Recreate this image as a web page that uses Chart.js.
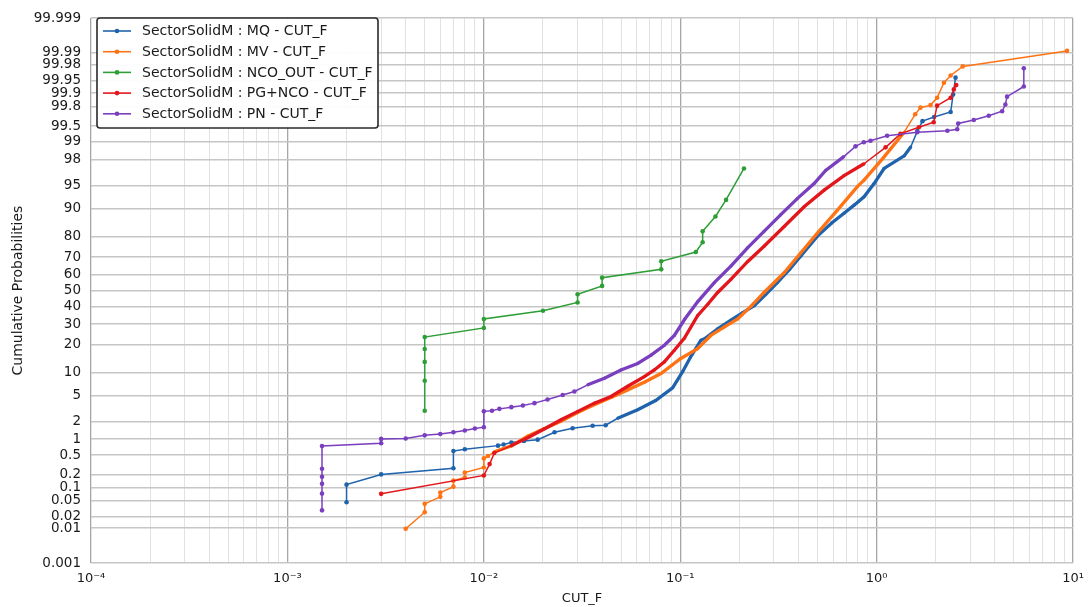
<!DOCTYPE html>
<html>
<head>
<meta charset="utf-8">
<script src="https://cdn.jsdelivr.net/npm/chart.js@4.4.0/dist/chart.umd.min.js"></script>
<style>
html,body{margin:0;padding:0;background:#fff;}
#wrap{width:1092px;height:607px;}
</style>
</head>
<body>
<div id="wrap"><canvas id="c" width="1092" height="607"></canvas></div>
<script>
// ---------------- DATA ----------------
const seriesNames = [
  'SectorSolidM : MQ - CUT_F',
  'SectorSolidM : MV - CUT_F',
  'SectorSolidM : NCO_OUT - CUT_F',
  'SectorSolidM : PG+NCO - CUT_F',
  'SectorSolidM : PN - CUT_F'
];

// MQ (CUT_F values, cumulative probability in %)
const mqX = [0.002, 0.002, 0.003, 0.007, 0.007, 0.008, 0.0118, 0.0126, 0.0138, 0.016, 0.0188, 0.0229, 0.0283, 0.0358, 0.0417, 0.048, 0.0607, 0.0749, 0.0914, 0.1028, 0.1128, 0.1273, 0.1345, 0.155, 0.181, 0.208, 0.238, 0.272, 0.312, 0.36, 0.41, 0.499, 0.59, 0.682, 0.77, 0.862, 0.97, 1.09, 1.38, 1.49, 1.61, 1.71, 1.96, 2.38, 2.45, 2.52];
const mqP = [0.046, 0.119, 0.20, 0.27, 0.60, 0.65, 0.76, 0.80, 0.87, 0.93, 0.98, 1.33, 1.56, 1.72, 1.75, 2.28, 3.1, 4.26, 6.4, 10.2, 14.9, 21.8, 22.8, 27.5, 32.1, 36.5, 40.6, 47.5, 54.9, 63.0, 70.5, 80.3, 85.5, 88.7, 91.0, 92.9, 95.3, 97.2, 98.25, 98.77, 99.37, 99.60, 99.67, 99.74, 99.893, 99.957];

// MV
const mvX = [0.004, 0.005, 0.005, 0.006, 0.006, 0.007, 0.007, 0.008, 0.008, 0.01, 0.01, 0.0105, 0.0113, 0.0138, 0.0167, 0.02, 0.0247, 0.03, 0.0365, 0.045, 0.054, 0.066, 0.0797, 0.1002, 0.1225, 0.143, 0.168, 0.196, 0.23, 0.267, 0.338, 0.41, 0.499, 0.631, 0.797, 0.862, 1.07, 1.38, 1.57, 1.67, 1.88, 2.03, 2.20, 2.38, 2.74, 9.31];
const mvP = [0.0096, 0.026, 0.042, 0.062, 0.078, 0.107, 0.146, 0.172, 0.22, 0.28, 0.43, 0.48, 0.58, 0.75, 1.13, 1.5, 2.03, 2.8, 3.7, 4.8, 6.0, 7.6, 9.7, 14.3, 18.1, 24.1, 28.5, 32.8, 40.5, 48.8, 61.0, 72.2, 81.6, 89.6, 94.8, 95.8, 98.04, 99.34, 99.71, 99.79, 99.815, 99.873, 99.943, 99.962, 99.9775, 99.9912];

// NCO_OUT
const ncoX = [0.005, 0.005, 0.005, 0.005, 0.005, 0.01, 0.01, 0.02, 0.03, 0.03, 0.04, 0.04, 0.08, 0.08, 0.12, 0.13, 0.13, 0.151, 0.171, 0.211];
const ncoP = [3.0, 7.9, 13.2, 18.0, 23.3, 27.9, 32.8, 37.6, 42.6, 47.7, 52.9, 58.0, 63.0, 67.7, 72.7, 77.5, 82.3, 87.7, 92.2, 97.2];

// PG+NCO
const pgX = [0.003, 0.01, 0.0107, 0.0113, 0.0138, 0.0167, 0.0204, 0.0247, 0.0301, 0.0365, 0.0444, 0.054, 0.0656, 0.0738, 0.083, 0.0933, 0.105, 0.1225, 0.138, 0.155, 0.181, 0.220, 0.267, 0.338, 0.427, 0.540, 0.682, 0.862, 1.11, 1.32, 1.64, 1.95, 2.03, 2.38, 2.47, 2.54];
const pgP = [0.073, 0.19, 0.33, 0.55, 0.76, 1.06, 1.53, 2.15, 2.93, 3.9, 4.86, 6.7, 8.9, 10.7, 13.2, 17.5, 22.8, 34.7, 41.5, 48.8, 56.9, 67.4, 75.6, 84.2, 90.5, 94.2, 96.4, 97.64, 98.75, 99.29, 99.47, 99.58, 99.81, 99.873, 99.918, 99.935];

// PN
const pnX = [0.0015, 0.0015, 0.0015, 0.0015, 0.0015, 0.0015, 0.003, 0.003, 0.004, 0.005, 0.006, 0.007, 0.008, 0.009, 0.01, 0.01, 0.011, 0.012, 0.0138, 0.0158, 0.0181, 0.0211, 0.0252, 0.0289, 0.0338, 0.0411, 0.0499, 0.0607, 0.071, 0.083, 0.0933, 0.1055, 0.1225, 0.149, 0.181, 0.220, 0.267, 0.324, 0.394, 0.48, 0.55, 0.68, 0.78, 0.86, 0.93, 1.13, 1.61, 2.29, 2.57, 2.6, 3.12, 3.72, 4.35, 4.52, 4.61, 5.61, 5.61];
const pnP = [0.029, 0.074, 0.125, 0.178, 0.263, 0.75, 0.84, 1.01, 1.03, 1.17, 1.24, 1.33, 1.42, 1.54, 1.62, 2.93, 3.0, 3.2, 3.4, 3.6, 3.9, 4.4, 5.1, 5.7, 7.0, 8.5, 10.7, 12.7, 15.6, 19.6, 24.1, 32.8, 43.0, 54.9, 64.9, 74.8, 82.3, 88.2, 92.5, 95.3, 97.0, 98.2, 98.8, 98.99, 99.05, 99.23, 99.34, 99.38, 99.42, 99.555, 99.62, 99.69, 99.75, 99.82, 99.88, 99.93, 99.975];

// Axis ticks
const yTickValues = [0.001, 0.01, 0.02, 0.05, 0.1, 0.2, 0.5, 1, 2, 5, 10, 20, 30, 40, 50, 60, 70, 80, 90, 95, 98, 99, 99.5, 99.8, 99.9, 99.95, 99.98, 99.99, 99.999];
const yTickLabels = ['0.001', '0.01', '0.02', '0.05', '0.1', '0.2', '0.5', '1', '2', '5', '10', '20', '30', '40', '50', '60', '70', '80', '90', '95', '98', '99', '99.5', '99.8', '99.9', '99.95', '99.98', '99.99', '99.999'];
const xDecades = [1e-4, 1e-3, 1e-2, 1e-1, 1, 10];
const xTickLabels = ['10\u207B\u2074', '10\u207B\u00B3', '10\u207B\u00B2', '10\u207B\u00B9', '10\u2070', '10\u00B9'];

// ---------------- STYLE ----------------
const colors = ['#1f63ad', '#ff7314', '#2e9e36', '#e3161c', '#7a3fbf'];
const denseRanges = [[0.045, 1.5], [0.011, 1.4], null, [0.012, 1.1], [0.03, 0.7]];
const FONT = "'DejaVu Sans', sans-serif";

// ---------------- HELPERS ----------------
function probit(p) {
  const a = [-3.969683028665376e+01, 2.209460984245205e+02, -2.759285104469687e+02, 1.383577518672690e+02, -3.066479806614716e+01, 2.506628277459239e+00];
  const b = [-5.447609879822406e+01, 1.615858368580409e+02, -1.556989798598866e+02, 6.680131188771972e+01, -1.328068155288572e+01];
  const c = [-7.784894002430293e-03, -3.223964580411365e-01, -2.400758277161838e+00, -2.549671348979257e+00, 4.374664141464968e+00, 2.938163982698783e+00];
  const d = [7.784695709041462e-03, 3.224671290700398e-01, 2.445134137142996e+00, 3.754408661907416e+00];
  const plow = 0.02425, phigh = 1 - plow;
  let q, r;
  if (p < plow) {
    q = Math.sqrt(-2 * Math.log(p));
    return (((((c[0]*q+c[1])*q+c[2])*q+c[3])*q+c[4])*q+c[5]) / ((((d[0]*q+d[1])*q+d[2])*q+d[3])*q+1);
  } else if (p <= phigh) {
    q = p - 0.5; r = q*q;
    return (((((a[0]*r+a[1])*r+a[2])*r+a[3])*r+a[4])*r+a[5])*q / (((((b[0]*r+b[1])*r+b[2])*r+b[3])*r+b[4])*r+1);
  } else {
    q = Math.sqrt(-2 * Math.log(1 - p));
    return -(((((c[0]*q+c[1])*q+c[2])*q+c[3])*q+c[4])*q+c[5]) / ((((d[0]*q+d[1])*q+d[2])*q+d[3])*q+1);
  }
}
function decadeIndex(v) {
  return xDecades.findIndex(dv => Math.abs(v / dv - 1) < 1e-6);
}
const xGridValues = [];
xDecades.forEach((dv, i) => {
  if (i < xDecades.length - 1) { for (let m = 1; m <= 9; m++) xGridValues.push(dv * m); }
  else xGridValues.push(dv);
});

const allX = [mqX, mvX, ncoX, pgX, pnX];
const allP = [mqP, mvP, ncoP, pgP, pnP];

function inDense(si, x) {
  const r = denseRanges[si];
  return r && x >= r[0] && x <= r[1];
}

const datasets = seriesNames.map((name, si) => ({
  label: name,
  data: allX[si].map((x, i) => ({ x: x, y: probit(allP[si][i] / 100) })),
  borderColor: colors[si],
  backgroundColor: colors[si],
  pointBackgroundColor: colors[si],
  pointBorderWidth: 0,
  pointRadius: ctx => inDense(si, allX[si][ctx.dataIndex]) ? 1.6 : 2.3,
  borderWidth: 1.5,
  tension: 0,
  fill: false,
  order: 5 - si,
  segment: {
    borderWidth: ctx => (inDense(si, allX[si][ctx.p0DataIndex]) && inDense(si, allX[si][ctx.p1DataIndex])) ? 3.3 : 1.5
  }
}));

// custom in-plot legend
const legendStyle = { x: 97, y: 18, w: 281, h: 110, row0: 31, gap: 20.7, lineX0: 103, lineX1: 131, textX: 142 };
const legendPlugin = {
  id: 'inplotLegend',
  afterDraw(chart) {
    const ctx = chart.ctx, L = legendStyle;
    ctx.save();
    ctx.beginPath();
    if (ctx.roundRect) ctx.roundRect(L.x, L.y, L.w, L.h, 3); else ctx.rect(L.x, L.y, L.w, L.h);
    ctx.fillStyle = 'rgba(255,255,255,0.95)';
    ctx.fill();
    ctx.lineWidth = 1.6;
    ctx.strokeStyle = '#2a2a2a';
    ctx.stroke();
    chart.data.datasets.forEach((ds, i) => {
      const y = L.row0 + i * L.gap;
      ctx.strokeStyle = ds.borderColor;
      ctx.lineWidth = 1.6;
      ctx.beginPath(); ctx.moveTo(L.lineX0, y); ctx.lineTo(L.lineX1, y); ctx.stroke();
      ctx.fillStyle = ds.borderColor;
      ctx.beginPath(); ctx.arc((L.lineX0 + L.lineX1) / 2, y, 2.3, 0, Math.PI * 2); ctx.fill();
      ctx.fillStyle = '#1a1a1a';
      ctx.font = '14px ' + FONT;
      ctx.textBaseline = 'middle';
      ctx.textAlign = 'left';
      ctx.fillText(ds.label, L.textX, y + 0.5);
    });
    ctx.restore();
  }
};

new Chart(document.getElementById('c'), {
  type: 'line',
  data: { datasets: datasets },
  options: {
    responsive: false,
    animation: false,
    events: [],
    layout: { padding: { left: 0, right: 16, top: 13, bottom: 0 } },
    plugins: { legend: { display: false }, tooltip: { enabled: false } },
    scales: {
      x: {
        type: 'logarithmic',
        min: 1e-4, max: 10,
        afterBuildTicks: s => { s.ticks = xGridValues.map(v => ({ value: v })); },
        afterFit: s => { s.height = 44; },
        grid: {
          color: ctx => (ctx.tick && decadeIndex(ctx.tick.value) >= 0) ? '#a6a6a6' : '#e2e2e2',
          lineWidth: ctx => (ctx.tick && decadeIndex(ctx.tick.value) >= 0) ? 1.3 : 1,
          drawTicks: false
        },
        border: { display: false },
        ticks: {
          autoSkip: false, maxRotation: 0, minRotation: 0, padding: 8,
          color: '#1a1a1a', font: { family: FONT, size: 13 },
          callback: v => { const k = decadeIndex(v); return k >= 0 ? xTickLabels[k] : ''; }
        },
        title: { display: true, text: 'CUT_F', color: '#1a1a1a', font: { family: FONT, size: 13 }, padding: { top: 0, bottom: 1 } }
      },
      y: {
        type: 'linear',
        min: probit(yTickValues[0] / 100),
        max: probit(yTickValues[yTickValues.length - 1] / 100),
        afterBuildTicks: s => { s.ticks = yTickValues.map(v => ({ value: probit(v / 100) })); },
        afterFit: s => { s.width = 91; },
        grid: { color: '#c6c6c6', lineWidth: 1.6, drawTicks: false },
        border: { display: false },
        ticks: {
          autoSkip: false, padding: 10,
          color: '#1a1a1a', font: { family: FONT, size: 13.5 },
          callback: (v, i) => yTickLabels[i]
        },
        title: { display: true, text: 'Cumulative Probabilities', color: '#1a1a1a', font: { family: FONT, size: 14 }, padding: { top: 10, bottom: 0 } }
      }
    }
  },
  plugins: [legendPlugin]
});
</script>
</body>
</html>
